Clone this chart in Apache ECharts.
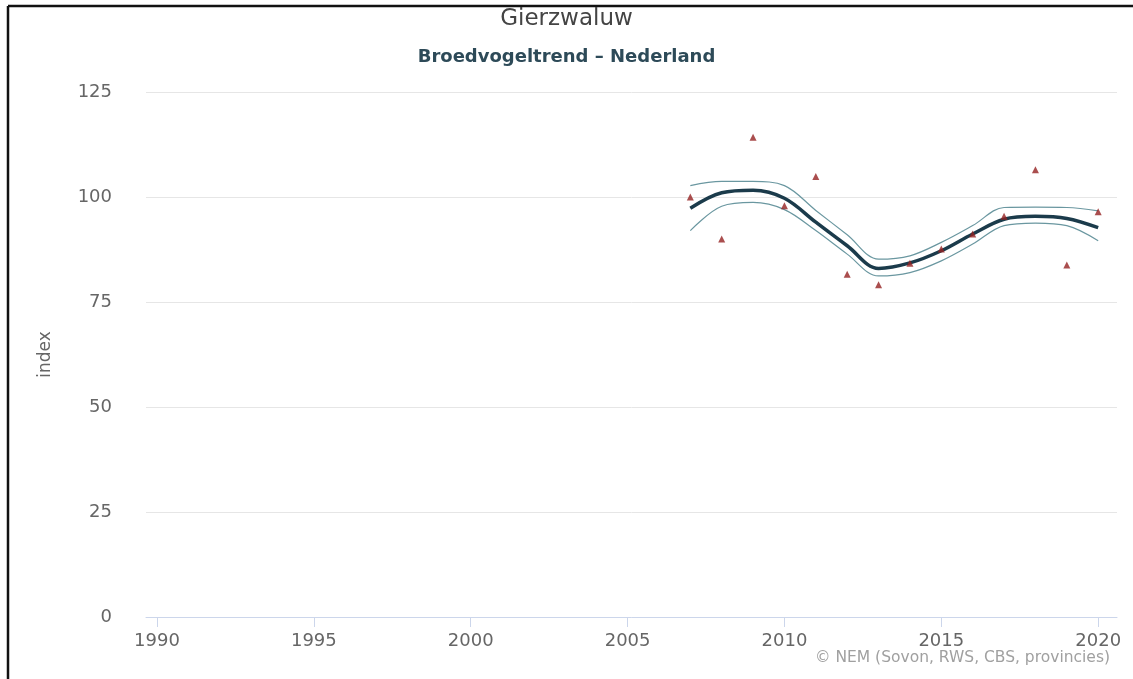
<!DOCTYPE html>
<html>
<head>
<meta charset="utf-8">
<script src="https://cdn.jsdelivr.net/npm/echarts@6/dist/echarts.min.js"></script>
<style>
html,body{margin:0;padding:0;background:#fff;}
#chart{width:1133px;height:679px;}
</style>
</head>
<body>
<div id="chart"></div>
<script>
const years = [2007, 2008, 2009, 2010, 2011, 2012, 2013, 2014, 2015, 2016, 2017, 2018, 2019, 2020];
const trend = [97.3, 101.0, 101.6, 99.7, 94.0, 88.4, 83.0, 84.3, 87.2, 91.2, 94.7, 95.4, 94.9, 92.7];
const upper = [102.7, 103.7, 103.7, 102.7, 96.8, 91.0, 85.2, 86.0, 89.2, 93.2, 97.5, 97.6, 97.5, 96.7];
const lower = [92.0, 97.8, 98.7, 97.0, 92.0, 86.4, 81.2, 82.0, 84.8, 88.8, 93.2, 93.8, 93.2, 89.6];
const observed = [100.0, 90.0, 114.2, 97.9, 104.9, 81.6, 79.1, 84.2, 87.6, 91.2, 95.4, 106.5, 83.8, 96.5];
const xTicks = [1990, 1995, 2000, 2005, 2010, 2015, 2020];

const pair = arr => years.map((y, i) => [y, arr[i]]);
const bandWidth = years.map((y, i) => [y, upper[i] - lower[i]]);

const chart = echarts.init(document.getElementById('chart'), null, {renderer: 'canvas'});
const fontFamily = 'DejaVu Sans';
chart.setOption({
  animation: false,
  backgroundColor: '#ffffff',
  textStyle: {fontFamily: fontFamily},
  title: [
    {text: 'Gierzwaluw', left: 'center', top: 3,
     textStyle: {fontFamily: fontFamily, fontSize: 23, fontWeight: 'normal', color: '#444444'}},
    {text: 'Broedvogeltrend – Nederland', left: 'center', top: 43,
     textStyle: {fontFamily: fontFamily, fontSize: 18, fontWeight: 'bold', color: '#2d4a58'}},
    {text: '© NEM (Sovon, RWS, CBS, provincies)', right: 18, top: 645,
     textStyle: {fontFamily: fontFamily, fontSize: 15.5, fontWeight: 'normal', color: '#a0a0a0'}}
  ],
  grid: {left: 146, right: 16, top: 92, bottom: 62, containLabel: false},
  xAxis: {
    type: 'value', min: 1989.65, max: 2020.6,
    axisLine: {show: true, lineStyle: {color: '#ccd6eb', width: 1}},
    axisTick: {show: true, customValues: xTicks, length: 10, lineStyle: {color: '#ccd6eb'}},
    axisLabel: {customValues: xTicks, color: '#666666', fontSize: 18, margin: 15,
                formatter: v => String(v)},
    splitLine: {show: false}
  },
  yAxis: {
    type: 'value', min: 0, max: 125, interval: 25,
    name: 'index', nameLocation: 'middle', nameGap: 92, nameRotate: 90,
    nameTextStyle: {color: '#666666', fontSize: 17},
    axisLine: {show: false}, axisTick: {show: false},
    axisLabel: {color: '#666666', fontSize: 18, margin: 34},
    splitLine: {lineStyle: {color: '#e6e6e6', width: 1}}
  },
  series: [
    {type: 'line', data: pair(lower), stack: 'band', smooth: 0.35, symbol: 'none',
     lineStyle: {color: '#6a97a0', width: 1.2}, z: 2, silent: true},
    {type: 'line', data: bandWidth, stack: 'band', smooth: 0.35, symbol: 'none',
     lineStyle: {width: 0, opacity: 0}, areaStyle: {color: '#d9f3fb', opacity: 1}, z: 1, silent: true},
    {type: 'line', data: pair(upper), smooth: 0.35, symbol: 'none',
     lineStyle: {color: '#6a97a0', width: 1.2}, z: 3, silent: true},
    {type: 'line', data: pair(trend), smooth: 0.35, symbol: 'none',
     lineStyle: {color: '#1b3b4b', width: 3.5}, z: 4, silent: true},
    {type: 'scatter', data: pair(observed), symbol: 'triangle', symbolSize: 7,
     itemStyle: {color: '#952222'}, z: 5, silent: true}
  ],
  graphic: [
    {type: 'line', shape: {x1: 8, y1: 6, x2: 1133, y2: 6}, style: {stroke: '#111111', lineWidth: 2.5}},
    {type: 'line', shape: {x1: 8, y1: 6, x2: 8, y2: 679}, style: {stroke: '#111111', lineWidth: 2.5}}
  ]
});
</script>
</body>
</html>
